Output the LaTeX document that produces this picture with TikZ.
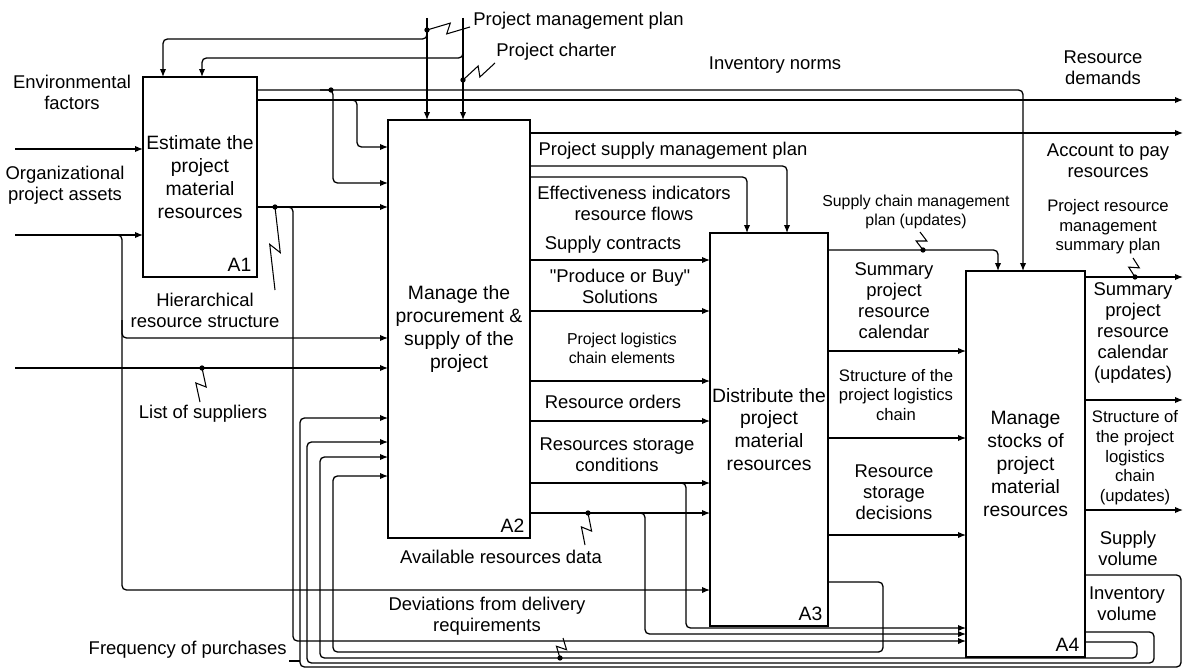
\documentclass[tikz,border=0pt]{standalone}
\usepackage{fontspec}
\setmainfont{Liberation Sans}
\usetikzlibrary{arrows.meta, positioning, calc}

\newcommand{\zigzag}[2]{%
  \draw[squigline] (#1) -- ($(#1)!0.55!(#2)!3pt!90:(#2)$) -- ($(#1)!0.45!(#2)!3pt!-90:(#2)$) -- (#2);}

\begin{document}
\begin{tikzpicture}[x=0.02cm, y=-0.02cm]
    \tikzstyle{box} = [rectangle, draw=black, line width=0.85pt, inner sep=0pt, outer sep=0pt, align=center, font=\fontsize{11}{13}\selectfont]
    \tikzstyle{boxid} = [anchor=south east, inner sep=3pt, font=\fontsize{11}{13}\selectfont]
    \tikzstyle{lbl} = [align=center, inner sep=0pt, font=\fontsize{10.5}{12}\selectfont]
    \tikzstyle{lblsmall} = [align=center, inner sep=0pt, font=\fontsize{9.5}{11.2}\selectfont]
    \tikzstyle{lbltiny} = [align=center, inner sep=0pt, font=\fontsize{9}{10.8}\selectfont]
    \tikzstyle{arrow} = [line width=0.75pt, rounded corners=2.5pt, -{Latex[length=4.5pt, width=3.6pt]}]
    \tikzstyle{link} = [line width=0.75pt, rounded corners=2.5pt]
    \tikzstyle{squigline} = [line width=0.6pt]
    \tikzstyle{joint} = [circle, fill=black, inner sep=0pt, minimum size=3pt]

    \useasboundingbox (0,0) rectangle (1183,669);

    % activity boxes
    \node (a1) [box, minimum width=2.28cm, minimum height=4cm] at (200,177) {Estimate the\\project\\material\\resources};
    \node (a2) [box, minimum width=2.84cm, minimum height=8.36cm] at (459,329) {Manage the\\procurement \&\\supply of the\\project};
    \node (a3) [box, minimum width=2.36cm, minimum height=7.86cm] at (769,429.5) {Distribute the\\project\\material\\resources};
    \node (a4) [box, minimum width=2.38cm, minimum height=7.72cm] at (1025.5,464) {Manage\\stocks of\\project\\material\\resources};
    \node (a1id) [boxid] at (a1.south east) {A1};
    \node (a2id) [boxid] at (a2.south east) {A2};
    \node (a3id) [boxid] at (a3.south east) {A3};
    \node (a4id) [boxid] at (a4.south east) {A4};

    % free ends
    \coordinate (envin) at (15,149);
    \coordinate (orgin) at (15,235);
    \coordinate (supin) at (15,368);
    \coordinate (pmpin) at (427,18);
    \coordinate (chin) at (463,18);
    \coordinate (freqin) at (289,661);
    \coordinate (rdout) at (1183,100);
    \coordinate (accout) at (1183,133);
    \coordinate (prmout) at (1183,277);
    \coordinate (spcout) at (1183,400);
    \coordinate (splout) at (1183,510);

    % inputs and controls of A1
    \draw[arrow] (envin) -- (a1.west |- envin);
    \draw[arrow] (orgin) -- (a1.west |- orgin);
    \draw[arrow] (100,235) -- (122,235) -- (122,590) -- (a3.west |- 0,590);
    \draw[arrow] (122,320) |- (a2.west |- 0,338);
    \draw[arrow] (supin) -- (a2.west |- supin);
    \draw[arrow] (pmpin) -- (pmpin |- a2.north);
    \draw[arrow] (427,30) -- (427,39) -| (a1.north -| 163,0);
    \draw[arrow] (chin) -- (chin |- a2.north);
    \draw[arrow] (463,48) -- (463,58) -| (a1.north -| 202,0);

    % outputs of A1
    \draw[arrow] (a1.east |- 0,90) -| (a4.north -| 1023,0);
    \draw[arrow] (a1.east |- 0,100) -- (rdout);
    \draw[arrow] (320,90) -- (333,90) |- (a2.west |- 0,183);
    \draw[arrow] (345,100) -- (357,100) |- (a2.west |- 0,147);
    \draw[arrow] (a1.east |- 0,207) -- (a2.west |- 0,207);
    \draw[arrow] (282,207) -- (293,207) |- (a4.west |- 0,641);

    % outputs of A2
    \draw[arrow] (a2.east |- 0,133) -- (accout);
    \draw[arrow] (a2.east |- 0,166) -| (a3.north -| 787,0);
    \draw[arrow] (a2.east |- 0,177) -| (a3.north -| 747,0);
    \foreach \y in {260,311,381,421,483,513}
        \draw[arrow] (a2.east |- 0,\y) -- (a3.west |- 0,\y);
    \draw[arrow] (675,483) -- (686,483) |- (a4.west |- 0,628);
    \draw[arrow] (634,513) -- (645,513) |- (a4.west |- 0,634);

    % outputs of A3
    \draw[arrow] (a3.east |- 0,250) -| (a4.north -| 998,0);
    \foreach \y in {351,438,535}
        \draw[arrow] (a3.east |- 0,\y) -- (a4.west |- 0,\y);
    \draw[arrow] (a3.east |- 0,582) -- (883,582) -- (883,652) -- (333,652) |- (a2.west |- 0,476);

    % outputs of A4
    \draw[arrow] (a4.east |- 0,277) -- (prmout);
    \draw[arrow] (a4.east |- 0,400) -- (spcout);
    \draw[arrow] (a4.east |- 0,510) -- (splout);
    \draw[arrow] (a4.east |- 0,575) -- (1181,575) -- (1181,667) -- (300,667) |- (a2.west |- 0,418);
    \draw[arrow] (a4.east |- 0,632) -- (1154,632) -- (1154,663) -- (307,663) |- (a2.west |- 0,442);
    \draw[arrow] (a4.east |- 0,642) -- (1137,642) -- (1137,658) -- (320,658) |- (a2.west |- 0,457);
    \draw[link] (freqin) -- (300,661);

    % labels
    \node (envlbl) [lbl] at (72,92) {Environmental\\factors};
    \node (orglbl) [lbl] at (65,185) {Organizational\\project assets};
    \node (hierlbl) [lbl] at (205,310) {Hierarchical\\resource structure};
    \node (suplbl) [lbl] at (203,414) {List of suppliers};
    \node (freqlbl) [lbl, anchor=east] at (287,650) {Frequency of purchases};
    \node (pmplbl) [lbl, anchor=west] at (473,21) {Project management plan};
    \node (chlbl) [lbl, anchor=west] at (496,52) {Project charter};
    \node (invlbl) [lbl] at (775,65) {Inventory norms};
    \node (rdlbl) [lbl] at (1103,68) {Resource\\demands};
    \node (acclbl) [lbl] at (1108,161) {Account to pay\\resources};
    \node (psmplbl) [lbl] at (673,151) {Project supply management plan};
    \node (efflbl) [lbl] at (634,203) {Effectiveness indicators\\resource flows};
    \node (sclbl) [lbl] at (613,245) {Supply contracts};
    \node (pblbl) [lbl] at (620,286) {\textquotedbl Produce or Buy\textquotedbl\\Solutions};
    \node (pllbl) [lbltiny] at (622,348) {Project logistics\\chain elements};
    \node (rolbl) [lbl] at (613,402) {Resource orders};
    \node (rsclbl) [lbl] at (617,455) {Resources storage\\conditions};
    \node (ardlbl) [lbl] at (501,557) {Available resources data};
    \node (devlbl) [lbl] at (487,616) {Deviations from delivery\\requirements};
    \node (scmlbl) [lbltiny] at (916,212) {Supply chain management\\plan (updates)};
    \node (sprclbl) [lbl] at (894,301) {Summary\\project\\resource\\calendar};
    \node (splclbl) [lblsmall] at (896,395) {Structure of the\\project logistics\\chain};
    \node (rsdlbl) [lbl] at (894,492) {Resource\\storage\\decisions};
    \node (prmlbl) [lblsmall] at (1108,227) {Project resource\\management\\summary plan};
    \node (sprculbl) [lbl] at (1133,333) {Summary\\project\\resource\\calendar\\(updates)};
    \node (splculbl) [lblsmall] at (1135,458) {Structure of\\the project\\logistics\\chain\\(updates)};
    \node (svlbl) [lbl] at (1128,548) {Supply\\volume};
    \node (ivlbl) [lbl] at (1127,604) {Inventory\\volume};

    % label connectors
    \node (pmpdot) [joint] at (427,30) {};
    \node (chdot) [joint] at (463,80) {};
    \node (hierdot) [joint] at (275,207) {};
    \node (supdot) [joint] at (202,368) {};
    \node (arddot) [joint] at (588,513) {};
    \node (scmdot) [joint] at (923,250) {};
    \node (prmdot) [joint] at (1135,277) {};
    \node (devdot) [joint] at (560,658) {};
    \node (invdot) [joint] at (331,90) {};
    \coordinate (pmpend) at (470,27);
    \coordinate (chend) at (495,63);
    \coordinate (hierend) at (275,290);
    \coordinate (supend) at (200,402);
    \coordinate (ardend) at (585,545);
    \coordinate (scmend) at (920,232);
    \coordinate (prmend) at (1133,258);
    \coordinate (devend) at (563,638);
    \zigzag{pmpdot.center}{pmpend}
    \zigzag{chdot.center}{chend}
    \zigzag{hierdot.center}{hierend}
    \zigzag{supdot.center}{supend}
    \zigzag{arddot.center}{ardend}
    \zigzag{scmdot.center}{scmend}
    \zigzag{prmdot.center}{prmend}
    \zigzag{devdot.center}{devend}
\end{tikzpicture}
\end{document}
